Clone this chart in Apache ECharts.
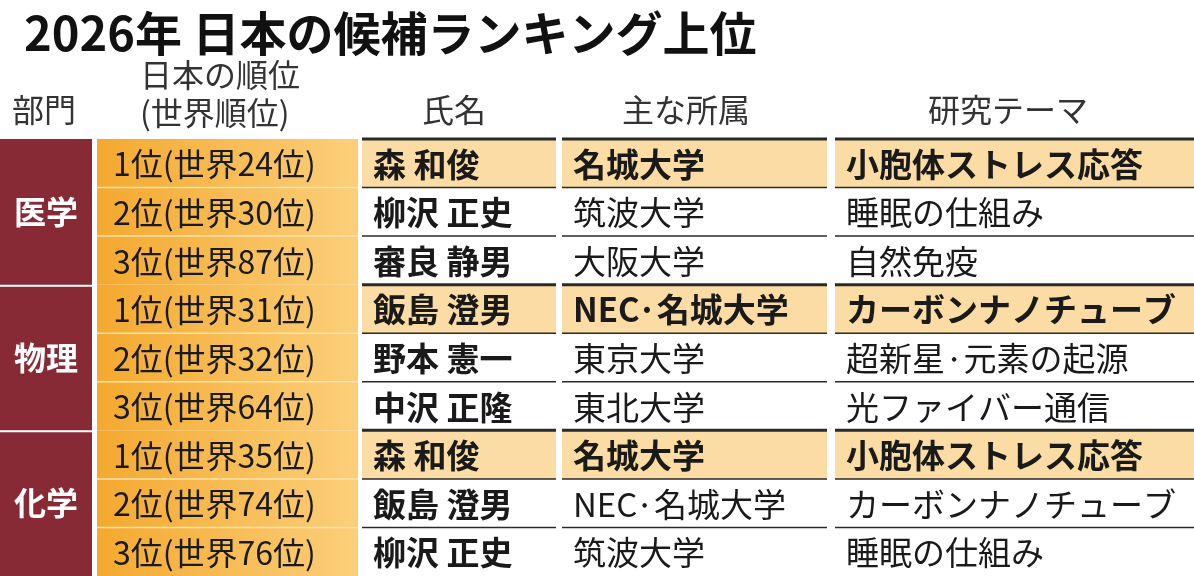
<!DOCTYPE html>
<html><head><meta charset="utf-8">
<script src="https://cdn.jsdelivr.net/npm/echarts@6/dist/echarts.min.js"></script>
<style>html,body{margin:0;background:#fff}#c{width:1194px;height:576px}</style>
</head><body><div id="c"></div>
<script>
const title = '2026年 日本の候補ランキング上位';
const headers = ['部門', '日本の順位\n(世界順位)', '氏名', '主な所属', '研究テーマ'];
const groups = ['医学', '物理', '化学'];
const ranks = ['1位(世界24位)','2位(世界30位)','3位(世界87位)','1位(世界31位)','2位(世界32位)','3位(世界64位)','1位(世界35位)','2位(世界74位)','3位(世界76位)'];
const names = ['森 和俊','柳沢 正史','審良 静男','飯島 澄男','野本 憲一','中沢 正隆','森 和俊','飯島 澄男','柳沢 正史'];
const affils = ['名城大学','筑波大学','大阪大学','NEC·名城大学','東京大学','東北大学','名城大学','NEC·名城大学','筑波大学'];
const themes = ['小胞体ストレス応答','睡眠の仕組み','自然免疫','カーボンナノチューブ','超新星·元素の起源','光ファイバー通信','小胞体ストレス応答','カーボンナノチューブ','睡眠の仕組み'];

const FONT = '"Noto Sans CJK JP", sans-serif';
const colEdges = [[0,92],[97,358],[362,556],[562,827],[835,1194]];
const rowCats = ranks.map((_, i) => 'r' + i);

const cells = [];
for (let i = 0; i < ranks.length; i++) {
  [ranks[i], names[i], affils[i], themes[i]].forEach((t, c) => cells.push([c + 1, i, t]));
}
const groupData = groups.map((g, i) => [0, i * 3, g]);

function cellItem(params, api) {
  const col = api.value(0), row = api.value(1), txt = api.value(2);
  const e = colEdges[col];
  const p0 = api.coord([e[0], row]);
  const p1 = api.coord([e[1], row]);
  const h = api.size([0, 1])[1];
  const y = p0[1] - h / 2;
  const first = row % 3 === 0;
  let fill = '#ffffff';
  if (col === 1) fill = {type:'linear',x:0,y:0,x2:1,y2:0,colorStops:[{offset:0,color:'#f4a92f'},{offset:1,color:'#fbcf7a'}]};
  else if (first) fill = '#fbdca4';
  const bold = col === 2 || (first && col > 2);
  const size = col === 1 ? 32 : 33;
  const children = [
    {type:'rect', shape:{x:p0[0], y:y, width:p1[0]-p0[0], height:h}, style:{fill:fill}},
    {type:'text', style:{x:p0[0] + (col===1?16:11), y:p0[1]+1, text:txt, font:(bold?'bold ':'')+size+'px '+FONT, fill:'#1a1a1a', verticalAlign:'middle'}}
  ];
  if (col === 1) {
    if (!first) children.push({type:'line', shape:{x1:p0[0],y1:y,x2:p1[0],y2:y}, style:{stroke:'#fde3b0',lineWidth:1.5}});
  } else {
    children.push({type:'line', shape:{x1:p0[0],y1:y,x2:p1[0],y2:y}, style:{stroke:'#2a2a2a',lineWidth:first?3:1.5}});
  }
  return {type:'group', children:children};
}
function groupItem(params, api) {
  const row = api.value(1), txt = api.value(2);
  const e = colEdges[0];
  const p0 = api.coord([e[0], row]);
  const p1 = api.coord([e[1], row]);
  const h = api.size([0, 1])[1];
  const y = p0[1] - h / 2;
  return {type:'group', children:[
    {type:'rect', shape:{x:p0[0], y:y + (row?2:0), width:p1[0]-p0[0], height:h*3 - (row?2:0)}, style:{fill:'#882a36'}},
    {type:'text', style:{x:(p0[0]+p1[0])/2, y:y+h*1.5, text:txt, font:'bold 32px '+FONT, fill:'#fff', align:'center', verticalAlign:'middle'}}
  ]};
}

const chart = echarts.init(document.getElementById('c'));
const HF = '32px ' + FONT;
chart.setOption({
  animation:false,
  grid:{left:0, right:0, top:139, bottom:0},
  xAxis:{type:'value', min:0, max:1194, show:false},
  yAxis:{type:'category', data:rowCats, inverse:true, show:false},
  series:[
    {type:'custom', renderItem:cellItem, data:cells, encode:{x:0,y:1}},
    {type:'custom', renderItem:groupItem, data:groupData, encode:{x:0,y:1}}
  ],
  graphic:[
    {type:'text', left:24, top:10, style:{text:title, font:'bold 47px '+FONT, fill:'#111'}},
    {type:'text', left:12, top:94, style:{text:headers[0], font:HF, fill:'#333'}},
    {type:'text', left:140, top:56, style:{text:headers[1], font:HF, fill:'#333', align:'center', lineHeight:38, width:176}},
    {type:'text', left:422, top:94, style:{text:headers[2], font:HF, fill:'#333'}},
    {type:'text', left:622, top:94, style:{text:headers[3], font:HF, fill:'#333'}},
    {type:'text', left:928, top:94, style:{text:headers[4], font:HF, fill:'#333'}}
  ]
});
</script></body></html>
